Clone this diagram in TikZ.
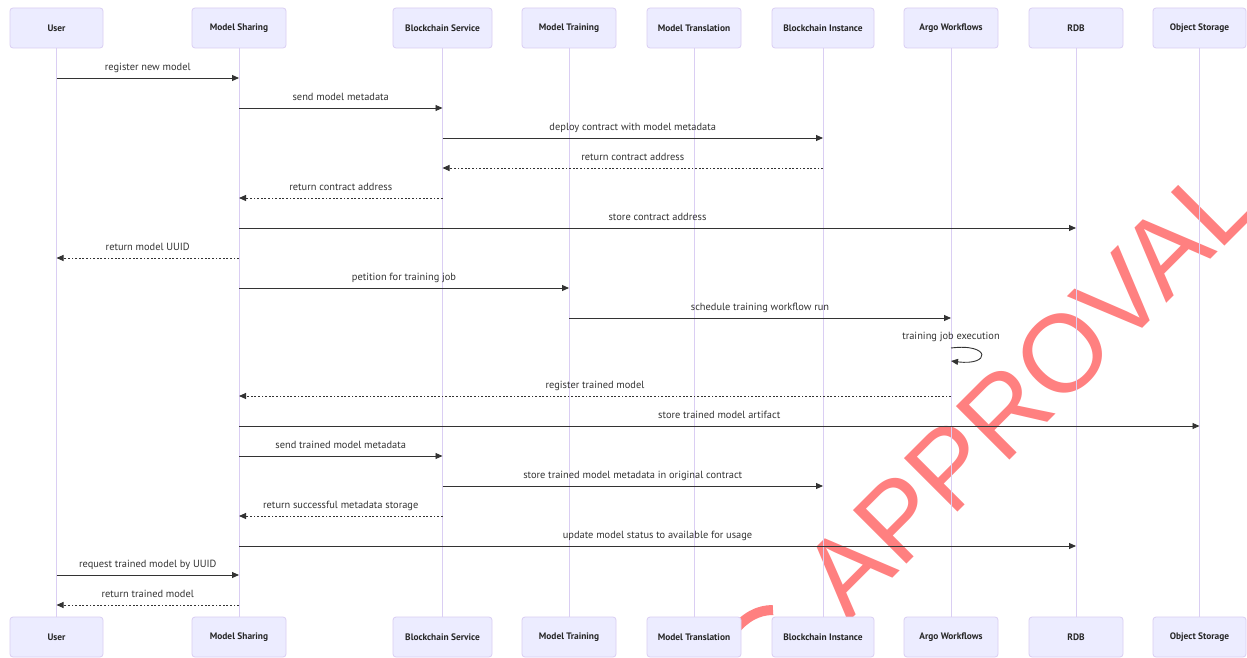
\documentclass[tikz,border=0pt]{standalone}
\usepackage{fontspec}
\setmainfont{PT Sans}
\newfontfamily\stampfont{Liberation Sans}
\usetikzlibrary{arrows.meta}
\definecolor{actfill}{HTML}{ECECFF}
\definecolor{actline}{HTML}{DACEF3}
\definecolor{msgline}{HTML}{333333}
\definecolor{stamp}{RGB}{255,128,128}
\begin{document}
\begin{tikzpicture}[x=1pt,y=-1pt,
  actor/.style={draw=actline, fill=actfill, line width=0.8pt, rounded corners=3pt,
    minimum width=94pt, minimum height=40pt, inner sep=0pt,
    font=\bfseries\fontsize{9.4}{11}\selectfont, text=black!85},
  life/.style={draw=actline, line width=1pt},
  msg/.style={draw=msgline, line width=0.9pt, -{Triangle[length=7pt,width=6pt]}},
  reply/.style={msg, dash pattern=on 1.8pt off 1.8pt},
  lbltext/.style={font=\fontsize{10.4}{12}\selectfont, text=msgline, inner sep=0pt, anchor=base},
  lbl/.style={lbltext, midway, yshift=7.5pt}]
\useasboundingbox[fill=white] (0,0) rectangle (1247,658);

% watermark, behind everything else
\begin{scope}
  \clip (0,0) rectangle (1247,658);
  \node[rotate=45, anchor=base west, inner sep=0pt, text=stamp,
        font=\stampfont\fontsize{110}{110}\selectfont] (stampword) at (848,622.5) {APPROVAL};
  \draw[stamp, line width=10pt] (733,632) .. controls (745,617) and (758,610) .. (773,610);
\end{scope}

% participants, top row
\node[actor, minimum width=93pt] (user) at (56.5,28) {User};
\node[actor] (share) at (239,28) {Model Sharing};
\node[actor, minimum width=99pt] (bcs) at (442.5,28) {Blockchain Service};
\node[actor] (train) at (569,28) {Model Training};
\node[actor] (trans) at (694,28) {Model Translation};
\node[actor, minimum width=102pt] (bci) at (823,28) {Blockchain Instance};
\node[actor] (argo) at (951,28) {Argo Workflows};
\node[actor] (rdb) at (1076,28) {RDB};
\node[actor, minimum width=93pt] (obj) at (1199.5,28) {Object Storage};

% participants, bottom row
\node[actor, minimum width=93pt] (userB) at (56.5,637) {User};
\node[actor] (shareB) at (239,637) {Model Sharing};
\node[actor, minimum width=99pt] (bcsB) at (442.5,637) {Blockchain Service};
\node[actor] (trainB) at (569,637) {Model Training};
\node[actor] (transB) at (694,637) {Model Translation};
\node[actor, minimum width=102pt] (bciB) at (823,637) {Blockchain Instance};
\node[actor] (argoB) at (951,637) {Argo Workflows};
\node[actor] (rdbB) at (1076,637) {RDB};
\node[actor, minimum width=93pt] (objB) at (1199.5,637) {Object Storage};

% lifelines
\foreach \p in {user,share,bcs,train,trans,bci,argo,rdb,obj}
  \draw[life] (\p.south) -- (\p B.north);

% message rows
\foreach \n/\yy in {1/78,2/108,3/138,4/168,5/198,6/228,7/258,8/288,9/318,
                    11/396,12/426,13/456,14/486,15/516,16/546,17/575,18/605}
  \coordinate (r\n) at (0,\yy);
\coordinate (loopA) at (0,348);
\coordinate (loopB) at (0,361);

% messages
\draw[msg]   (user |- r1) -- (share |- r1) node[lbl] (m1) {register new model};
\draw[msg]   (share |- r2) -- (bcs |- r2) node[lbl] (m2) {send model metadata};
\draw[msg]   (bcs |- r3) -- (bci |- r3) node[lbl] (m3) {deploy contract with model metadata};
\draw[reply] (bci |- r4) -- (bcs |- r4) node[lbl] (m4) {return contract address};
\draw[reply] (bcs |- r5) -- (share |- r5) node[lbl] (m5) {return contract address};
\draw[msg]   (share |- r6) -- (rdb |- r6) node[lbl] (m6) {store contract address};
\draw[reply] (share |- r7) -- (user |- r7) node[lbl] (m7) {return model UUID};
\draw[msg]   (share |- r8) -- (train |- r8) node[lbl] (m8) {petition for training job};
\draw[msg]   (train |- r9) -- (argo |- r9) node[lbl] (m9) {schedule training workflow run};
\draw[msg]   (argo |- loopA) .. controls +(40,-5) and +(40,5) .. (argo |- loopB);
\node[lbltext] (m10) at (argo |- 0,339) {training job execution};
\draw[reply] (argo |- r11) -- (share |- r11) node[lbl] (m11) {register trained model};
\draw[msg]   (share |- r12) -- (obj |- r12) node[lbl] (m12) {store trained model artifact};
\draw[msg]   (share |- r13) -- (bcs |- r13) node[lbl] (m13) {send trained model metadata};
\draw[msg]   (bcs |- r14) -- (bci |- r14) node[lbl] (m14) {store trained model metadata in original contract};
\draw[reply] (bcs |- r15) -- (share |- r15) node[lbl] (m15) {return successful metadata storage};
\draw[msg]   (share |- r16) -- (rdb |- r16) node[lbl] (m16) {update model status to available for usage};
\draw[msg]   (user |- r17) -- (share |- r17) node[lbl] (m17) {request trained model by UUID};
\draw[reply] (share |- r18) -- (user |- r18) node[lbl] (m18) {return trained model};
\end{tikzpicture}
\end{document}
